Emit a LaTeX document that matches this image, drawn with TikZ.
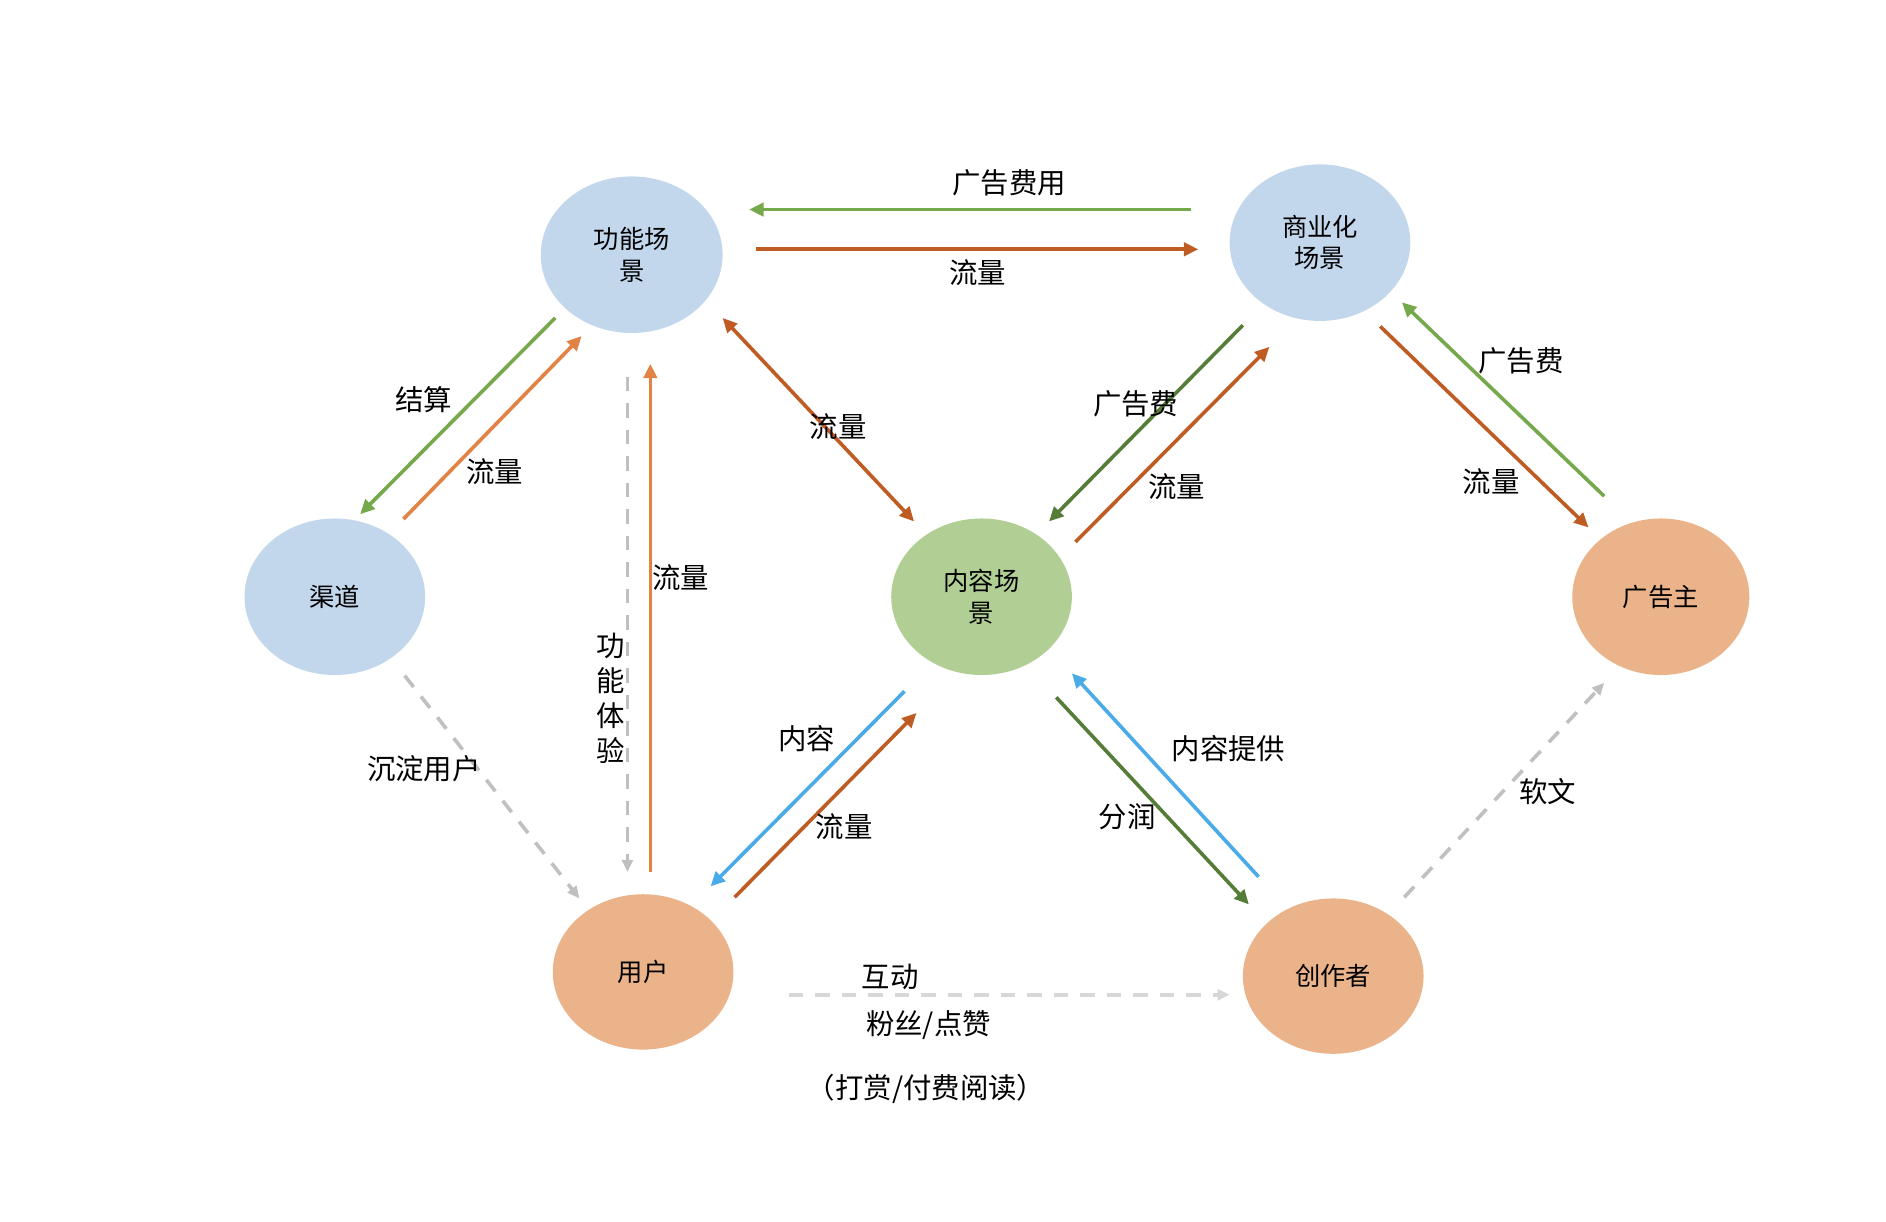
\documentclass[tikz,border=0pt]{standalone}
\usepackage{fontspec}
\setmainfont{Noto Sans CJK SC}
\usetikzlibrary{shapes.geometric,arrows.meta}
\definecolor{cblue}{RGB}{194,215,236}
\definecolor{cgreenfill}{RGB}{177,207,149}
\definecolor{corangefill}{RGB}{234,179,138}
\definecolor{agreen}{RGB}{118,168,76}
\definecolor{adkgreen}{RGB}{86,125,56}
\definecolor{abrown}{RGB}{190,92,36}
\definecolor{aorange}{RGB}{226,130,68}
\definecolor{ablue}{RGB}{75,170,232}
\definecolor{agray}{RGB}{192,192,192}
\definecolor{algray}{RGB}{215,215,215}
\begin{document}
\begin{tikzpicture}[x=0.5pt,y=-0.5pt,
  ell/.style={ellipse, draw=none, inner sep=0pt, align=center,
    font=\fontsize{10.5}{13}\selectfont},
  lbl/.style={inner sep=0pt, font=\fontsize{11.8}{14.5}\selectfont, align=center},
  arr/.style={line width=1.5pt, -{Triangle[length=6pt,width=5.5pt]}},
  darr/.style={line width=1.5pt, {Triangle[length=6pt,width=5.5pt]}-{Triangle[length=6pt,width=5.5pt]}},
  dsh/.style={line width=1.5pt, dash pattern=on 6pt off 5pt, -{Triangle[length=5pt,width=4.5pt]}}]
\useasboundingbox (0,0) rectangle (1566,1014.6);
% ellipses
\node[ell, fill=cblue, minimum width=75.5pt, minimum height=65pt] (gn) at (524.5,211.5) {功能场\\景};
\node[ell, fill=cblue, minimum width=75pt, minimum height=65pt] (sy) at (1096,201.5) {商业化\\场景};
\node[ell, fill=cblue, minimum width=75pt, minimum height=65pt] (qd) at (278,495.5) {渠道};
\node[ell, fill=cgreenfill, minimum width=75pt, minimum height=65pt] (nr) at (815,495.5) {内容场\\景};
\node[ell, fill=corangefill, minimum width=73.5pt, minimum height=65pt] (gg) at (1379,495.5) {广告主};
\node[ell, fill=corangefill, minimum width=75pt, minimum height=64.5pt] (yh) at (534,807) {用户};
\node[ell, fill=corangefill, minimum width=75pt, minimum height=64.5pt] (cz) at (1107,810.5) {创作者};
% coordinates for arrow ends
\coordinate (a1s) at (989,174);  \coordinate (a1e) at (622,174);
\coordinate (a2s) at (628,207);  \coordinate (a2e) at (995,207);
\coordinate (a3s) at (461,264);  \coordinate (a3e) at (299,427);
\coordinate (a4s) at (335,431);  \coordinate (a4e) at (483,279);
\coordinate (a5s) at (521,313);  \coordinate (a5e) at (521,724);
\coordinate (a6s) at (540,724);  \coordinate (a6e) at (540,302);
\coordinate (a7s) at (600,264);  \coordinate (a7e) at (759,433);
\coordinate (a8s) at (1032,270); \coordinate (a8e) at (871,433);
\coordinate (a9s) at (893,450);  \coordinate (a9e) at (1054,288);
\coordinate (b1s) at (1146,271); \coordinate (b1e) at (1319,438);
\coordinate (b2s) at (1332,412); \coordinate (b2e) at (1164,251);
\coordinate (b3s) at (336,561);  \coordinate (b3e) at (481,746);
\coordinate (b4s) at (751,574);  \coordinate (b4e) at (590,736);
\coordinate (b5s) at (610,745);  \coordinate (b5e) at (761,592);
\coordinate (b6s) at (877,579);  \coordinate (b6e) at (1037,751);
\coordinate (b7s) at (1045,728); \coordinate (b7e) at (890,559);
\coordinate (b8s) at (1166,745); \coordinate (b8e) at (1332,567);
\coordinate (b9s) at (655,826);  \coordinate (b9e) at (1021,826);
% arrows
\draw[arr, agreen] (a1s) -- (a1e);
\draw[arr, abrown] (a2s) -- (a2e);
\draw[arr, agreen] (a3s) -- (a3e);
\draw[arr, aorange] (a4s) -- (a4e);
\draw[dsh, agray] (a5s) -- (a5e);
\draw[arr, aorange] (a6s) -- (a6e);
\draw[darr, abrown] (a7s) -- (a7e);
\draw[arr, adkgreen] (a8s) -- (a8e);
\draw[arr, abrown] (a9s) -- (a9e);
\draw[arr, abrown] (b1s) -- (b1e);
\draw[arr, agreen] (b2s) -- (b2e);
\draw[dsh, agray] (b3s) -- (b3e);
\draw[arr, ablue] (b4s) -- (b4e);
\draw[arr, abrown] (b5s) -- (b5e);
\draw[arr, adkgreen] (b6s) -- (b6e);
\draw[arr, ablue] (b7s) -- (b7e);
\draw[dsh, agray] (b8s) -- (b8e);
\draw[dsh, algray] (b9s) -- (b9e);
% labels
\node[lbl] (l1) at (838,152) {广告费用};
\node[lbl] (l2) at (812,226) {流量};
\node[lbl] (l3) at (352,332) {结算};
\node[lbl] (l4) at (411,392) {流量};
\node[lbl] (l5) at (565,480) {流量};
\node[lbl, font=\fontsize{11.8}{14.6}\selectfont] (l6) at (507,580) {功\\能\\体\\验};
\node[lbl] (l7) at (696,354) {流量};
\node[lbl] (l8) at (943,335) {广告费};
\node[lbl] (l9) at (977,404) {流量};
\node[lbl] (l10) at (1263,300) {广告费};
\node[lbl] (l11) at (1238,400) {流量};
\node[lbl] (l12) at (352,638) {沉淀用户};
\node[lbl] (l13) at (670,613) {内容};
\node[lbl] (l14) at (701,686) {流量};
\node[lbl] (l15) at (936,678) {分润};
\node[lbl] (l16) at (1020,622) {内容提供};
\node[lbl] (l17) at (1285,657) {软文};
\node[lbl] (l18) at (739,811) {互动};
\node[lbl] (l19) at (771,851) {粉丝/点赞};
\node[lbl] (l20) at (769,904) {（打赏/付费阅读）};
\end{tikzpicture}
\end{document}
